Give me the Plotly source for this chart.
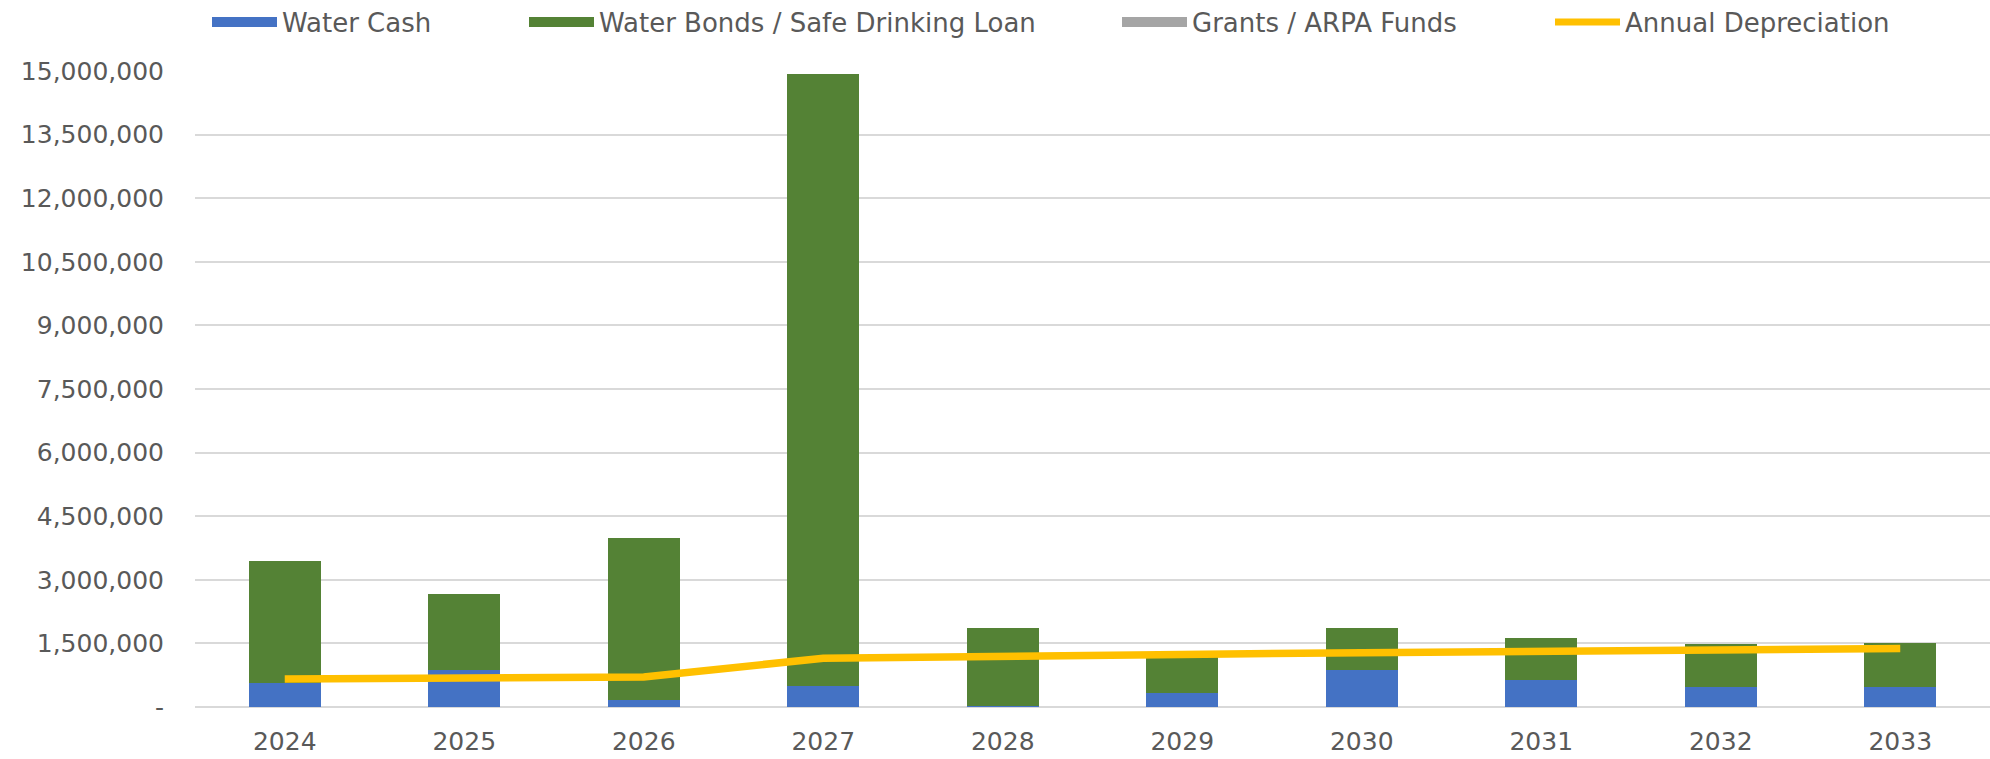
import plotly.graph_objects as go

years = ["2024", "2025", "2026", "2027", "2028", "2029", "2030", "2031", "2032", "2033"]
water_cash = [565000, 880000, 170000, 490000, 30000, 330000, 875000, 640000, 480000, 480000]
water_bonds = [2890000, 1790000, 3820000, 14430000, 1840000, 970000, 985000, 990000, 1010000, 1020000]
grants_arpa = [0, 0, 0, 0, 0, 0, 0, 0, 0, 0]
annual_depreciation = [660000, 700000, 710000, 1150000, 1210000, 1240000, 1280000, 1320000, 1350000, 1380000]

y_tickvals = [0, 1500000, 3000000, 4500000, 6000000, 7500000, 9000000, 10500000, 12000000, 13500000, 15000000]
y_ticktext = ["-", "1,500,000", "3,000,000", "4,500,000", "6,000,000", "7,500,000",
              "9,000,000", "10,500,000", "12,000,000", "13,500,000", "15,000,000"]

series_names = ["Water Cash", "Water Bonds / Safe Drinking Loan", "Grants / ARPA Funds", "Annual Depreciation"]
series_colors = ["#4472C4", "#548235", "#A5A5A5", "#FFC000"]

FONT = "DejaVu Sans"
GREY = "#595959"

L, R, T, B = 195, 0, 71, 52
W, H = 1990, 759
plot_w = W - L - R

fig = go.Figure()
bar_values = [water_cash, water_bonds, grants_arpa]
for vals, name, col in zip(bar_values, series_names[:3], series_colors[:3]):
    fig.add_trace(go.Bar(x=years, y=vals, name=name, showlegend=False,
                         marker=dict(color=col, line=dict(width=0))))
fig.add_trace(go.Scatter(x=years, y=annual_depreciation, name=series_names[3], mode="lines",
                         showlegend=False, line=dict(color=series_colors[3], width=7.5, shape="linear")))

# legend entries (one legend per entry, so spacing matches the original)
legend_px = [212, 529, 1122, 1555]
legend_keys = ["legend", "legend2", "legend3", "legend4"]
legend_layout = {}
for i, (name, col, px, key) in enumerate(zip(series_names, series_colors, legend_px, legend_keys)):
    lw = 13 if i < 3 else 7
    fig.add_trace(go.Scatter(x=[None], y=[None], mode="lines", name=name, legend=key,
                             line=dict(color=col, width=lw), showlegend=True, hoverinfo="skip"))
    legend_layout[key] = dict(
        x=(px - L - 5) / plot_w, xanchor="left",
        y=1 - 22 / H, yanchor="middle", yref="container",
        orientation="h", itemwidth=65,
        font=dict(family=FONT, size=26, color=GREY), bgcolor="rgba(0,0,0,0)",
    )

fig.update_layout(
    width=W, height=H,
    barmode="stack", bargap=0.6,
    plot_bgcolor="white", paper_bgcolor="white",
    margin=dict(l=L, r=R, t=T, b=B, autoexpand=False),
    font=dict(family=FONT, size=25, color=GREY),
    showlegend=True,
    xaxis=dict(showgrid=False, showline=False, zeroline=False, ticks="",
               tickfont=dict(family=FONT, size=25, color=GREY), ticklabelstandoff=17),
    yaxis=dict(range=[0, 15000000], tickvals=y_tickvals, ticktext=y_ticktext,
               showgrid=True, gridcolor="#D9D9D9", gridwidth=2, zeroline=True,
               zerolinecolor="#D9D9D9", zerolinewidth=2, showline=False, ticks="",
               tickfont=dict(family=FONT, size=25, color=GREY), ticklabelstandoff=30),
    **legend_layout,
)

fig.write_html("out.html", config={"displayModeBar": False},
               post_script="document.body.style.margin='0px';")
